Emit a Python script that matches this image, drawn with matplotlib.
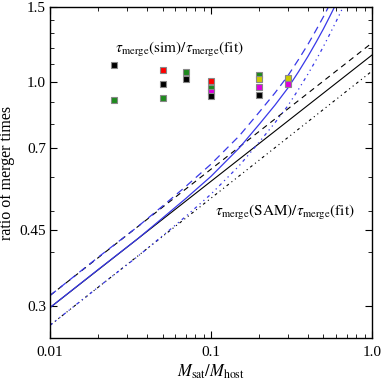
import matplotlib
matplotlib.use("Agg")
from matplotlib import pyplot as plt
from matplotlib.ticker import FixedLocator, NullFormatter, LogLocator

plt.rcParams["font.family"] = ["Liberation Serif", "DejaVu Serif"]
plt.rcParams["mathtext.fontset"] = "stix"

# simulation points: tau_merge(sim)/tau_merge(fit)
pt_x = [0.025, 0.025, 0.05, 0.05, 0.05, 0.07, 0.07,
        0.1, 0.1, 0.1, 0.1, 0.2, 0.2, 0.2, 0.2, 0.3, 0.3]
pt_y = [1.094, 0.909, 1.069, 0.989, 0.917, 1.054, 1.018,
        1.004, 0.970, 0.947, 0.927, 1.042, 1.015, 0.973, 0.932, 1.022, 0.989]
pt_c = ["black", "#1e8a1e", "red", "black", "#1e8a1e", "#1e8a1e", "black",
        "red", "#1e8a1e", "#dd00dd", "black", "#1e8a1e", "#cccc00", "#dd00dd", "black",
        "#cccc00", "#dd00dd"]

# SAM / fit ratios (black: straight lines, blue: curved)
black_x = [0.01, 1.0]
black_solid = [0.297, 1.157]
black_dash = [0.317, 1.235]
black_dot = [0.270, 1.061]

blue_x = [0.01, 0.02, 0.035, 0.05, 0.07, 0.1, 0.15, 0.2, 0.25, 0.3, 0.35,
          0.4, 0.45, 0.5, 0.55, 0.6, 0.65, 0.7]
blue_solid = [0.297, 0.365, 0.430, 0.481, 0.535, 0.602, 0.702, 0.798, 0.884,
              0.968, 1.058, 1.148, 1.240, 1.333, 1.430, 1.527, 1.625, 1.734]
blue_dash = [0.317, 0.390, 0.459, 0.513, 0.571, 0.643, 0.749, 0.852, 0.944,
             1.034, 1.130, 1.225, 1.324, 1.423, 1.526, 1.630, 1.734, 1.851]
blue_dot = [0.270, 0.332, 0.391, 0.437, 0.486, 0.547, 0.638, 0.725, 0.804,
            0.880, 0.962, 1.044, 1.127, 1.212, 1.300, 1.388, 1.477, 1.576]

yticks = [0.3, 0.45, 0.7, 1.0, 1.5]
ytick_labels = ["0.3", "0.45", "0.7", "1.0", "1.5"]
xticks = [0.01, 0.1, 1.0]
xtick_labels = ["0.01", "0.1", "1.0"]

blue = "#3838e8"
dotdash = (0, (2.5, 3, 1, 3, 1, 3))

fig = plt.figure(figsize=(3.85, 3.82), dpi=100)
ax = fig.add_axes([0.130, 0.115, 0.836, 0.867])

ax.plot(black_x, black_solid, color="black", lw=0.8)
ax.plot(black_x, black_dash, color="black", lw=0.8, ls=(0, (5, 4)))
ax.plot(black_x, black_dot, color="black", lw=0.8, ls=dotdash)
ax.plot(blue_x, blue_solid, color=blue, lw=0.9)
ax.plot(blue_x, blue_dash, color=blue, lw=0.9, ls=(0, (6, 4)))
ax.plot(blue_x, blue_dot, color=blue, lw=0.9, ls=dotdash)

for x, y, c in zip(pt_x, pt_y, pt_c):
    ax.plot(x, y, "s", ms=5, mfc=c, mec="#888888", mew=0.8)

ax.set_xscale("log")
ax.set_yscale("log")
ax.set_xlim(0.01, 1.0)
ax.set_ylim(0.252, 1.5)

ax.yaxis.set_major_locator(FixedLocator(yticks))
ax.set_yticklabels(ytick_labels)
ax.yaxis.set_minor_locator(FixedLocator([0.4, 0.5, 0.6, 0.8, 0.9, 1.1, 1.2, 1.3, 1.4]))
ax.yaxis.set_minor_formatter(NullFormatter())
ax.xaxis.set_major_locator(FixedLocator(xticks))
ax.set_xticklabels(xtick_labels)
ax.xaxis.set_minor_locator(LogLocator(base=10, subs=range(2, 10)))
ax.xaxis.set_minor_formatter(NullFormatter())

ax.tick_params(which="both", direction="in", top=True, right=True, labelsize=11)
ax.tick_params(axis="y", pad=3)
ax.tick_params(axis="x", pad=6)
ax.tick_params(which="major", length=5)
ax.tick_params(which="minor", length=3)
for s in ax.spines.values():
    s.set_linewidth(1.0)

ax.set_xlabel(r"$M_{\rm sat}/M_{\rm host}$", fontsize=12, labelpad=2)
ax.set_ylabel("ratio of merger times", fontsize=11.5, labelpad=3)

ax.text(0.0253, 1.19, r"$\tau_{\rm merge}({\rm sim})/\tau_{\rm merge}({\rm fit})$",
        fontsize=11, ha="left", va="center")
ax.text(0.106, 0.495, r"$\tau_{\rm merge}({\rm SAM})/\tau_{\rm merge}({\rm fit})$",
        fontsize=11, ha="left", va="center")

fig.savefig("out.png", dpi=100)
